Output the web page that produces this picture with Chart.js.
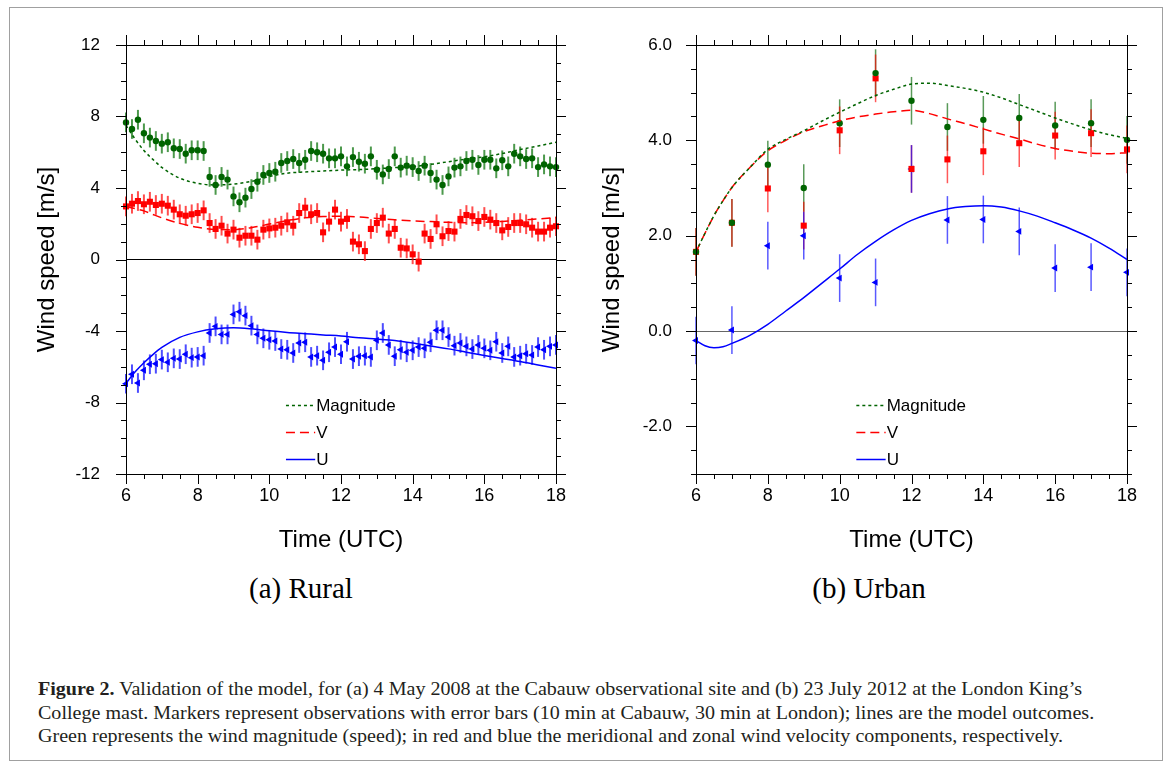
<!DOCTYPE html>
<html>
<head>
<meta charset="utf-8">
<script src="https://cdn.jsdelivr.net/npm/chart.js@4.4.0/dist/chart.umd.min.js"></script>
<style>
  html, body { margin: 0; padding: 0; background: #fff; }
  body { width: 1171px; height: 769px; position: relative; overflow: hidden; }
  #frame { position: absolute; left: 9px; top: 7px; width: 1154px; height: 754px; border: 1.5px solid #a0a0a0; box-sizing: border-box; }
  .box { position: absolute; top: 0; height: 560px; }
  #ruralBox { left: 0; width: 585px; }
  #urbanBox { left: 585px; width: 586px; }
  .sub { position: absolute; top: 572px; width: 300px; text-align: center; font: 29px "Liberation Serif", serif; color: #000; }
  #caption { position: absolute; left: 38px; top: 678px; font: 18px/23.5px "Liberation Serif", serif; color: #231f20; white-space: nowrap; transform-origin: left top; transform: scaleX(1.114); }
</style>
</head>
<body>
<div id="frame"></div>
<div class="box" id="ruralBox"><canvas id="ruralChart"></canvas></div>
<div class="box" id="urbanBox"><canvas id="urbanChart"></canvas></div>
<div class="sub" style="left:151px">(a) Rural</div>
<div class="sub" style="left:719px">(b) Urban</div>
<div id="caption">
  <div><b>Figure 2.</b> Validation of the model, for (a) 4 May 2008 at the Cabauw observational site and (b) 23 July 2012 at the London King’s</div>
  <div>College mast. Markers represent observations with error bars (10 min at Cabauw, 30 min at London); lines are the model outcomes.</div>
  <div>Green represents the wind magnitude (speed); in red and blue the meridional and zonal wind velocity components, respectively.</div>
</div>
<script>
// Rural (Cabauw) observations, every 10 min
const ruralObsTime = [
  '6:00','6:10','6:20','6:30','6:40','6:50','7:00','7:10','7:20','7:30','7:40','7:50',
  '8:00','8:10','8:20','8:30','8:40','8:50','9:00','9:10','9:20','9:30','9:40','9:50',
  '10:00','10:10','10:20','10:30','10:40','10:50','11:00','11:10','11:20','11:30','11:40','11:50',
  '12:00','12:10','12:20','12:30','12:40','12:50','13:00','13:10','13:20','13:30','13:40','13:50',
  '14:00','14:10','14:20','14:30','14:40','14:50','15:00','15:10','15:20','15:30','15:40','15:50',
  '16:00','16:10','16:20','16:30','16:40','16:50','17:00','17:10','17:20','17:30','17:40','17:50',
  '18:00'
];
const ruralMag = [
  7.67, 7.30, 7.82, 7.06, 6.82, 6.63, 6.48, 6.56, 6.22, 6.18, 5.92, 6.11,
  6.11, 6.07, 4.62, 4.17, 4.62, 4.47, 3.53, 3.20, 3.46, 3.94, 4.35, 4.73,
  4.84, 4.91, 5.40, 5.51, 5.62, 5.40, 5.58, 6.07, 6.00, 5.92, 5.66, 5.66,
  5.77, 5.21, 5.73, 5.47, 5.36, 5.77, 5.02, 4.76, 5.06, 5.77, 5.14, 5.25,
  5.17, 4.95, 5.25, 4.84, 4.47, 4.17, 4.65, 5.14, 5.21, 5.51, 5.58, 5.29,
  5.58, 5.58, 5.10, 5.55, 5.21, 5.92, 5.77, 5.62, 5.66, 5.17, 5.32, 5.21,
  5.17
];
const ruralV = [
  2.97, 3.12, 3.27, 3.09, 3.23, 3.05, 3.12, 3.01, 2.79, 2.53, 2.45, 2.53,
  2.60, 2.75, 2.04, 1.71, 1.89, 1.45, 1.67, 1.22, 1.33, 1.33, 1.11, 1.67,
  1.74, 1.78, 1.89, 2.08, 1.89, 2.60, 2.90, 2.53, 2.60, 1.52, 2.12, 2.79,
  2.12, 2.27, 1.00, 0.85, 0.47, 1.71, 2.04, 2.34, 1.45, 1.71, 0.66, 0.62,
  0.29, -0.12, 1.45, 1.15, 1.97, 1.30, 1.59, 1.56, 2.27, 2.49, 2.42, 2.15,
  2.38, 2.23, 2.04, 1.63, 1.82, 2.04, 2.04, 1.97, 1.78, 1.56, 1.56, 1.78,
  1.86
];
const ruralU = [
  -6.95, -6.42, -6.91, -6.20, -5.86, -5.83, -5.60, -5.75, -5.53, -5.57, -5.30, -5.49,
  -5.45, -5.38, -4.11, -3.74, -4.19, -4.19, -3.07, -2.92, -3.14, -3.70, -4.19, -4.41,
  -4.49, -4.56, -5.01, -5.05, -5.23, -4.67, -4.63, -5.45, -5.38, -5.64, -5.19, -4.90,
  -5.30, -4.60, -5.57, -5.41, -5.38, -5.45, -4.52, -4.11, -4.78, -5.41, -5.05, -5.19,
  -5.08, -4.90, -4.97, -4.63, -3.96, -3.96, -4.34, -4.82, -4.67, -4.86, -5.01, -4.78,
  -4.97, -5.08, -4.60, -5.23, -4.86, -5.45, -5.38, -5.27, -5.34, -4.90, -5.05, -4.86,
  -4.78
];
const ruralErr = 0.55;

// Rural model outcome
const ruralModelTime = [6, 6.25, 6.5, 6.75, 7, 7.5, 8, 8.5, 9, 9.5, 10, 10.5, 11, 11.5, 12, 12.5, 13, 13.5, 14, 14.5, 15, 15.5, 16, 16.5, 17, 17.5, 18];
const ruralMagModel = [7.5, 6.75, 6.1, 5.6, 5.15, 4.55, 4.26, 4.17, 4.22, 4.37, 4.64, 4.83, 4.90, 4.95, 5.0, 5.03, 5.08, 5.14, 5.2, 5.32, 5.47, 5.62, 5.75, 5.93, 6.15, 6.35, 6.56];
const ruralVModel = [2.95, 2.85, 2.72, 2.52, 2.33, 2.02, 1.80, 1.68, 1.67, 1.78, 1.98, 2.18, 2.33, 2.40, 2.42, 2.38, 2.30, 2.22, 2.16, 2.12, 2.08, 2.06, 2.08, 2.13, 2.20, 2.27, 2.34];
const ruralUModel = [-6.93, -6.3, -5.78, -5.32, -4.92, -4.36, -4.05, -3.88, -3.82, -3.88, -3.99, -4.08, -4.15, -4.22, -4.28, -4.38, -4.45, -4.53, -4.67, -4.84, -5.0, -5.19, -5.37, -5.54, -5.71, -5.9, -6.09];

// Urban (London) observations, every hour
const urbanObsTime = [6, 7, 8, 9, 10, 11, 12, 13, 14, 15, 16, 17, 18];
const urbanMag = [1.66, 2.27, 3.49, 3.00, 4.36, 5.41, 4.83, 4.28, 4.43, 4.47, 4.31, 4.36, 4.01];
const urbanV = [1.66, 2.27, 2.99, 2.21, 4.21, 5.30, 3.40, 3.60, 3.77, 3.94, 4.10, 4.15, 3.81];
const urbanU = [-0.20, 0.02, 1.79, 2.00, 1.11, 1.02, 3.40, 2.33, 2.34, 2.09, 1.32, 1.34, 1.23];
const urbanErr = 0.5;

// Urban model outcome
const urbanModelTime = [6, 6.25, 6.5, 6.75, 7, 7.5, 8, 8.5, 9, 9.5, 10, 10.5, 11, 11.5, 12, 12.5, 13, 13.5, 14, 14.5, 15, 15.5, 16, 16.5, 17, 17.5, 18];
const urbanMagModel = [1.66, 2.05, 2.42, 2.73, 3.01, 3.43, 3.81, 4.02, 4.20, 4.40, 4.59, 4.77, 4.94, 5.07, 5.18, 5.20, 5.15, 5.09, 5.01, 4.89, 4.75, 4.61, 4.47, 4.34, 4.22, 4.12, 4.04];
const urbanVModel = [1.66, 2.05, 2.42, 2.73, 3.01, 3.43, 3.78, 4.00, 4.18, 4.30, 4.41, 4.49, 4.55, 4.60, 4.63, 4.56, 4.45, 4.35, 4.24, 4.13, 4.03, 3.92, 3.83, 3.77, 3.73, 3.72, 3.74];
const urbanUModel = [-0.20, -0.31, -0.35, -0.33, -0.26, -0.09, 0.14, 0.42, 0.70, 1.00, 1.30, 1.61, 1.88, 2.12, 2.32, 2.46, 2.56, 2.61, 2.63, 2.60, 2.52, 2.41, 2.27, 2.12, 1.95, 1.74, 1.50];

const timeTicks = [6, 8, 10, 12, 14, 16, 18];
const ruralYTicks = [-12, -8, -4, 0, 4, 8, 12];
const urbanYTicks = [-2, 0, 2, 4, 6];

const legendLabels = ['Magnitude', 'V', 'U'];

const GREEN = '#006400', RED = '#ff0000', BLUE = '#0000ff';

function hours(s) {
    const [h, m] = s.split(':').map(Number);
    return h + m / 60;
}

function pts(xs, ys) {
    return xs.map((x, i) => ({ x: x, y: ys[i] }));
}

// error bars under the markers
const errorBars = {
    id: 'errorBars',
    beforeDatasetsDraw(chart) {
        const { ctx, scales: { x, y } } = chart;
        chart.data.datasets.forEach(ds => {
            if (!ds.errorBar) return;
            ctx.save();
            ctx.strokeStyle = ds.errorColor;
            ctx.lineWidth = ds.errorWidth;
            ds.data.forEach(p => {
                const px = x.getPixelForValue(p.x);
                ctx.beginPath();
                ctx.moveTo(px, y.getPixelForValue(p.y - ds.errorBar));
                ctx.lineTo(px, y.getPixelForValue(p.y + ds.errorBar));
                ctx.stroke();
            });
            ctx.restore();
        });
    }
};

// frame around the plot, with major and minor ticks outward on all sides
const frameTicks = {
    id: 'frameTicks',
    afterDraw(chart, args, opts) {
        const { ctx, chartArea: a, scales: { x, y } } = chart;
        ctx.save();
        ctx.strokeStyle = '#000';
        ctx.lineWidth = 1;
        ctx.strokeRect(Math.round(a.left) + 0.5, Math.round(a.top) + 0.5, Math.round(a.right - a.left), Math.round(a.bottom - a.top));
        const seg = (x0, y0, x1, y1) => { ctx.beginPath(); ctx.moveTo(x0, y0); ctx.lineTo(x1, y1); ctx.stroke(); };
        const near = (v, step) => Math.abs(v / step - Math.round(v / step)) < 1e-6;
        for (let t = x.min; t <= x.max + 1e-6; t += opts.xMinor) {
            const px = Math.round(x.getPixelForValue(t)) + 0.5;
            const len = near(t, opts.xMajor) ? 10 : 5;
            seg(px, a.top, px, a.top - len);
            seg(px, a.bottom, px, a.bottom + len);
        }
        for (let v = y.min; v <= y.max + 1e-6; v += opts.yMinor) {
            const py = Math.round(y.getPixelForValue(v)) + 0.5;
            const len = near(v, opts.yMajor) ? 10 : 5;
            seg(a.left, py, a.left - len, py);
            seg(a.right, py, a.right + len, py);
        }
        ctx.restore();
    }
};

// legend drawn inside the plot area
const insideLegend = {
    id: 'insideLegend',
    afterDraw(chart) {
        const { ctx, chartArea: a } = chart;
        const w = a.right - a.left, h = a.bottom - a.top;
        const x0 = a.left + 0.372 * w, x1 = a.left + 0.44 * w;
        ctx.save();
        ctx.font = '17px "Liberation Sans", Arial, sans-serif';
        ctx.textBaseline = 'middle';
        ctx.fillStyle = '#000';
        chart.data.datasets.filter(d => d.showLine).forEach((d, i) => {
            const yy = Math.round(a.top + (0.839 + i * 0.063) * h) + 0.5;
            ctx.strokeStyle = d.borderColor;
            ctx.lineWidth = d.borderWidth;
            ctx.setLineDash(d.borderDash || []);
            ctx.beginPath();
            ctx.moveTo(x0, yy);
            ctx.lineTo(x1, yy);
            ctx.stroke();
            ctx.fillText(d.label, x1 + 1, yy + 1);
        });
        ctx.restore();
    }
};

function lineSet(label, xs, ys, color, dash) {
    return {
        label: label, data: pts(xs, ys), showLine: true, borderColor: color, borderWidth: 1.5,
        borderDash: dash, pointRadius: 0, cubicInterpolationMode: 'monotone', fill: false
    };
}

function obsSet(xs, ys, color, style, radius, rotation, err, errColor, errWidth) {
    return {
        data: pts(xs, ys), showLine: false, pointStyle: style, pointRadius: radius, pointRotation: rotation,
        backgroundColor: color, borderColor: color, borderWidth: 0, clip: false,
        errorBar: err, errorColor: errColor, errorWidth: errWidth
    };
}

function makeChart(id, datasets, o) {
    return new Chart(document.getElementById(id), {
        type: 'scatter',
        data: { datasets: datasets },
        options: {
            responsive: true,
            maintainAspectRatio: false,
            animation: false,
            layout: { padding: { top: 45, right: o.padRight, left: 0, bottom: 0 } },
            plugins: { legend: { display: false }, tooltip: { enabled: false }, frameTicks: o.ticks },
            scales: {
                x: {
                    type: 'linear', min: 6, max: 18,
                    afterBuildTicks: s => { s.ticks = timeTicks.map(v => ({ value: v })); },
                    afterFit: s => { s.height = 86; },
                    grid: { display: false, drawTicks: false },
                    border: { display: false },
                    ticks: { padding: 11, color: '#000', font: { family: 'Liberation Sans', size: 18 }, maxRotation: 0 },
                    title: { display: true, text: 'Time (UTC)', color: '#000', font: { family: 'Liberation Sans', size: 24 }, padding: { top: 0, bottom: 5.6 } }
                },
                y: {
                    type: 'linear', min: o.yMin, max: o.yMax,
                    afterBuildTicks: s => { s.ticks = o.yTicks.map(v => ({ value: v })); },
                    afterFit: s => { s.width = o.yWidth; },
                    grid: { drawTicks: false, lineWidth: o.zeroWidth, color: c => (c.tick && c.tick.value === 0) ? o.zeroColor : 'rgba(0,0,0,0)' },
                    border: { display: false },
                    ticks: { padding: o.yPad, color: '#000', font: { family: 'Liberation Sans', size: 17 }, callback: o.fmt },
                    title: { display: true, text: 'Wind speed [m/s]', color: '#000', font: { family: 'Liberation Sans', size: 24 }, padding: { top: o.titlePad, bottom: 0 } }
                }
            }
        },
        plugins: [errorBars, frameTicks, insideLegend]
    });
}

const ruralTimes = ruralObsTime.map(hours);

makeChart('ruralChart', [
    lineSet(legendLabels[0], ruralModelTime, ruralMagModel, GREEN, [3, 3]),
    lineSet(legendLabels[1], ruralModelTime, ruralVModel, RED, [9, 5]),
    lineSet(legendLabels[2], ruralModelTime, ruralUModel, BLUE, []),
    obsSet(ruralTimes, ruralMag, GREEN, 'circle', 3.2, 0, ruralErr, 'rgba(0,110,0,0.7)', 2),
    obsSet(ruralTimes, ruralV, RED, 'rect', 4.3, 0, ruralErr, 'rgba(255,0,0,0.7)', 2),
    obsSet(ruralTimes, ruralU, BLUE, 'triangle', 4, -90, ruralErr, 'rgba(0,0,255,0.7)', 2)
], {
    padRight: 29, yMin: -12, yMax: 12, yTicks: ruralYTicks, yWidth: 126, yPad: 26, titlePad: 32.6,
    zeroColor: '#000', zeroWidth: 1, fmt: v => String(v),
    ticks: { xMinor: 0.5, xMajor: 2, yMinor: 1, yMajor: 4 }
});

makeChart('urbanChart', [
    lineSet(legendLabels[0], urbanModelTime, urbanMagModel, GREEN, [3, 3]),
    lineSet(legendLabels[1], urbanModelTime, urbanVModel, RED, [9, 5]),
    lineSet(legendLabels[2], urbanModelTime, urbanUModel, BLUE, []),
    obsSet(urbanObsTime, urbanMag, GREEN, 'circle', 3.2, 0, urbanErr, 'rgba(0,100,0,0.65)', 1.5),
    obsSet(urbanObsTime, urbanV, RED, 'rect', 4.3, 0, urbanErr, 'rgba(255,0,0,0.65)', 1.5),
    obsSet(urbanObsTime, urbanU, BLUE, 'triangle', 4, -90, urbanErr, 'rgba(0,0,255,0.65)', 1.5)
], {
    padRight: 44, yMin: -3, yMax: 6, yTicks: urbanYTicks, yWidth: 111, yPad: 24, titlePad: 12.6,
    zeroColor: '#666', zeroWidth: 1, fmt: v => v.toFixed(1),
    ticks: { xMinor: 0.5, xMajor: 2, yMinor: 0.5, yMajor: 2 }
});
</script>
</body>
</html>
